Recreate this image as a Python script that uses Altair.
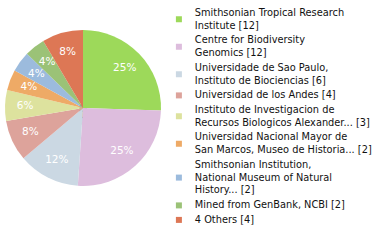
import altair as alt
import pandas as pd

labels = [
    "Smithsonian Tropical Research\nInstitute [12]",
    "Centre for Biodiversity\nGenomics [12]",
    "Universidade de Sao Paulo,\nInstituto de Biociencias [6]",
    "Universidad de los Andes [4]",
    "Instituto de Investigacion de\nRecursos Biologicos Alexander... [3]",
    "Universidad Nacional Mayor de\nSan Marcos, Museo de Historia... [2]",
    "Smithsonian Institution,\nNational Museum of Natural\nHistory... [2]",
    "Mined from GenBank, NCBI [2]",
    "4 Others [4]",
]
values = [12, 12, 6, 4, 3, 2, 2, 2, 4]
colors = ["#9dd95a", "#ddbddd", "#cbd8e3", "#dda39b", "#dde29e",
          "#eeaa66", "#9cbbdd", "#9bc277", "#dd7755"]

LINE_H = 12.7
SYM_SIZE = 36
unit = (SYM_SIZE ** 0.5) / 2
# legend square shifted down to sit at the middle of a multi-line label
shapes = []
for lab in labels:
    n = lab.count("\n") + 1
    s = (n - 1) * LINE_H / 2 / unit
    shapes.append(f"M-1,{-1 + s:.3f}H1V{1 + s:.3f}H-1Z")

df = pd.DataFrame({"label": labels, "value": values, "idx": list(range(len(values)))})

fill_scale = alt.Scale(domain=labels, range=colors)

base = alt.Chart(df).transform_joinaggregate(
    total="sum(value)"
).transform_calculate(
    pct="floor(datum.value / datum.total * 100) + '%'"
).encode(
    theta=alt.Theta("value:Q", stack=True),
    order=alt.Order("idx:Q"),
)

legend = alt.Legend(
    title=None,
    orient="none",
    legendX=174,
    legendY=-17,
    symbolSize=SYM_SIZE,
    symbolStrokeColor="#777777",
    symbolStrokeWidth=1,
    symbolOpacity=1,
    labelExpr="split(datum.label, '\\n')",
    labelFont="DejaVu Sans",
    labelFontSize=9.8,
    labelColor="#111111",
    labelLimit=220,
    labelOffset=11,
    labelBaseline="middle",
    rowPadding=3.5,
)

# legend keys: drawn first, hidden underneath the pie
keys = alt.Chart(df).mark_point(
    filled=True, strokeWidth=1, size=SYM_SIZE
).encode(
    fill=alt.Fill("label:N", scale=fill_scale, legend=legend),
    stroke=alt.value("#777777"),
    shape=alt.Shape("label:N", scale=alt.Scale(domain=labels, range=shapes), legend=legend),
)

pie = base.mark_arc(radius=78).encode(
    fill=alt.Fill("label:N", scale=fill_scale, legend=legend)
)

text = base.mark_text(radius=58, fill="white", font="DejaVu Sans", fontSize=10.5).encode(
    text="pct:N"
)

chart = alt.layer(keys, pie, text).properties(
    width=166, height=166,
    padding={"left": 0, "top": 25, "right": 214, "bottom": 49},
    autosize=alt.AutoSizeParams(type="none"),
).configure_view(stroke=None).configure(
    background="white",
    style={"guide-label": {"lineHeight": LINE_H}},
)

chart.save("out.html", embed_options={"renderer": "svg", "actions": False})
